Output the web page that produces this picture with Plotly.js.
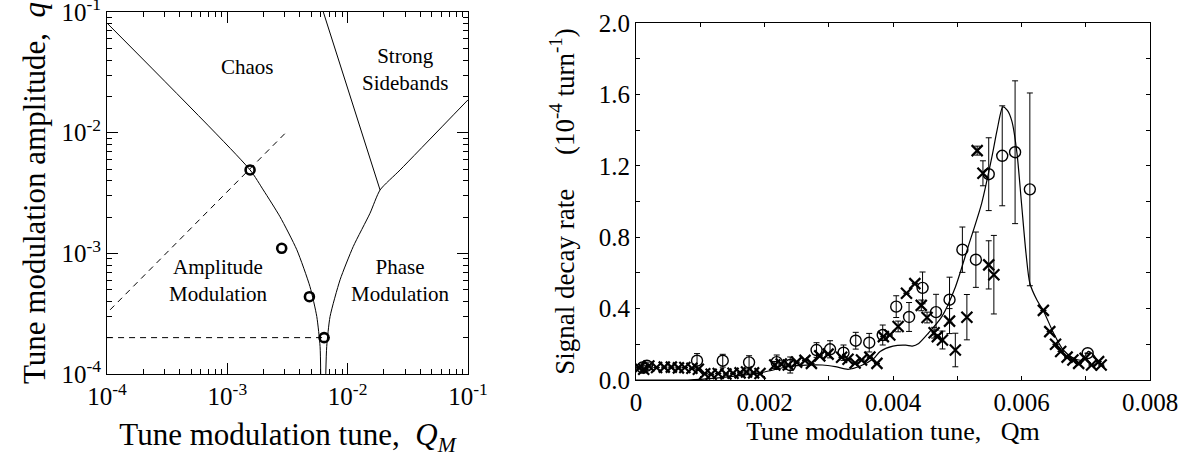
<!DOCTYPE html>
<html>
<head>
<meta charset="utf-8">
<script src="https://cdn.plot.ly/plotly-3.0.1.min.js"></script>
<style>html,body{margin:0;padding:0;background:#fff;}#chart{width:1192px;height:459px;}</style>
</head>
<body>
<div id="chart"></div>
<script>
// ---------- Left panel: regime diagram (log-log) ----------
const leftBranchQM = [1e-4, 1.545e-3, 1.99e-3, 2.74e-3, 3.78e-3, 4.86e-3, 5.54e-3, 5.90e-3, 5.97e-3];
const leftBranchQ  = [0.081, 4.91e-3, 3.35e-3, 2.01e-3, 1.07e-3, 5.3e-4, 2.99e-4, 1.69e-4, 1.0e-4];
const rightBranchQM = [6.58e-3, 6.70e-3, 7.14e-3, 8.65e-3, 1.114e-2, 1.535e-2, 1.86e-2, 2.73e-2, 0.1];
const rightBranchQ  = [1.0e-4, 1.69e-4, 2.99e-4, 6.03e-4, 1.14e-3, 2.15e-3, 3.35e-3, 4.91e-3, 0.0187];
const sidebandQM = [6.28e-3, 1.86e-2];
const sidebandQ  = [0.1, 3.35e-3];
const diagDashQM = [1.06e-4, 3.12e-3];
const diagDashQ  = [3.4e-4, 1.02e-2];
const horizDashQM = [1e-4, 7.1e-3];
const horizDashQ  = [2.0e-4, 2.0e-4];
const measQM = [1.545e-3, 2.83e-3, 4.81e-3, 6.37e-3];
const measQ  = [4.91e-3, 1.10e-3, 4.37e-4, 2.0e-4];
const logDecades = [1e-4, 1e-3, 1e-2, 1e-1];
const logDecadeText = ['10<sup>-4</sup>', '10<sup>-3</sup>', '10<sup>-2</sup>', '10<sup>-1</sup>'];
const regionLabels = ['Chaos', 'Strong<br>Sidebands', 'Amplitude<br>Modulation', 'Phase<br>Modulation'];
const regionLabelQM = [1.46e-3, 3.0e-2, 8.4e-4, 2.73e-2];
const regionLabelQ  = [3.5e-2, 3.37e-2, 5.9e-4, 5.9e-4];

// ---------- Right panel: signal decay rate ----------
const circleQm  = [0.00010, 0.00017, 0.00095, 0.00135, 0.00176, 0.00219, 0.00240, 0.00281, 0.00302, 0.00323, 0.00342, 0.00363, 0.00384, 0.00405, 0.00425, 0.00446, 0.00467, 0.00488, 0.00508, 0.00529, 0.00549, 0.00570, 0.00590, 0.00613, 0.00703];
const circleRate= [0.070, 0.080, 0.108, 0.108, 0.099, 0.100, 0.084, 0.168, 0.172, 0.153, 0.220, 0.209, 0.252, 0.411, 0.353, 0.516, 0.380, 0.450, 0.730, 0.674, 1.153, 1.256, 1.276, 1.068, 0.150];
const circleErr = [0.02, 0.02, 0.040, 0.036, 0.037, 0.040, 0.045, 0.041, 0.048, 0.043, 0.047, 0.052, 0.056, 0.061, 0.081, 0.089, 0.100, 0.126, 0.127, 0.155, 0.204, 0.280, 0.400, 0.540, null];

const crossQm  = [0.00005, 0.00012, 0.00020, 0.00032, 0.00044, 0.00055, 0.00066, 0.00076, 0.00087, 0.00097,
                  0.00107, 0.00117, 0.00128, 0.00140, 0.00151, 0.00162, 0.00172, 0.00183, 0.00193,
                  0.00216, 0.00226, 0.00237, 0.00250, 0.00263, 0.00273, 0.00286, 0.00299, 0.00320, 0.00330, 0.00341, 0.00351, 0.00364, 0.00375, 0.00385, 0.00395, 0.00408,
                  0.00421, 0.00434, 0.00444, 0.00453, 0.00464, 0.00469, 0.00477, 0.00488, 0.00497, 0.00515, 0.00531, 0.00540, 0.00549, 0.00557,
                  0.00634, 0.00644, 0.00653, 0.00661, 0.00671, 0.00680, 0.00689, 0.00699, 0.00709, 0.00720, 0.00724];
const crossRate= [0.068, 0.060, 0.078, 0.070, 0.072, 0.072, 0.068, 0.070, 0.066, 0.060,
                  0.035, 0.032, 0.036, 0.034, 0.038, 0.040, 0.045, 0.040, 0.036,
                  0.084, 0.090, 0.084, 0.100, 0.110, 0.093, 0.135, 0.145, 0.127, 0.116, 0.095, 0.112, 0.128, 0.093, 0.243, 0.252, 0.300,
                  0.486, 0.540, 0.418, 0.350, 0.265, 0.243, 0.224, 0.330, 0.168, 0.352, 1.285, 1.158, 0.645, 0.590,
                  0.390, 0.271, 0.200, 0.160, 0.128, 0.112, 0.093, 0.121, 0.084, 0.103, 0.084];
const crossErr = [null, 0.02, null, null, null, null, null, null, null, null,
                  null, null, null, null, null, null, null, null, null,
                  0.02, null, null, null, null, null, null, null, null, null, null, null, null, null, null, null, 0.03,
                  null, null, 0.03, 0.03, 0.03, null, 0.05, 0.07, 0.094, 0.127, 0.025, 0.07, 0.135, 0.22,
                  null, null, null, null, null, null, null, null, null, null, null];

const modelQm   = [0.0000, 0.0008, 0.0010, 0.0015, 0.0020, 0.0023, 0.0025, 0.0029, 0.0031, 0.0033, 0.0035, 0.0037, 0.0038, 0.0040, 0.0042, 0.0043, 0.0044, 0.00455, 0.00476, 0.00497, 0.00517, 0.00538, 0.00554, 0.00562, 0.00571, 0.00578, 0.00585, 0.00593, 0.00600, 0.00607, 0.00613, 0.00624, 0.00634, 0.00650, 0.00665, 0.00681, 0.00694, 0.00704, 0.00712, 0.00720];
const modelRate = [0.000, 0.000, 0.003, 0.020, 0.045, 0.070, 0.080, 0.084, 0.075, 0.060, 0.080, 0.120, 0.160, 0.190, 0.195, 0.190, 0.205, 0.262, 0.355, 0.520, 0.747, 0.990, 1.251, 1.400, 1.530, 1.510, 1.450, 1.270, 0.990, 0.710, 0.542, 0.448, 0.388, 0.262, 0.168, 0.122, 0.112, 0.160, 0.140, 0.093];

const qmTickVals  = [0, 0.001, 0.002, 0.003, 0.004, 0.005, 0.006, 0.007, 0.008];
const qmTickText  = ['0', '', '0.002', '', '0.004', '', '0.006', '', '0.008'];
const rateTickVals = [0, 0.2, 0.4, 0.6, 0.8, 1.0, 1.2, 1.4, 1.6, 1.8, 2.0];
const rateTickText = ['0.0', '', '0.4', '', '0.8', '', '1.2', '', '1.6', '', '2.0'];

const FONT = 'Liberation Serif, Times New Roman, serif';
const NB = '\u00A0';

// all tick positions (1..9 x each decade) for the log axes; labels only on decades
const logAllTicks = [], logAllText = [];
for (let e = -4; e < -1; e++) for (let m = 1; m <= 9; m++) {
  logAllTicks.push(m * Math.pow(10, e));
  logAllText.push(m === 1 ? logDecadeText[e + 4] : '');
}
logAllTicks.push(1e-1); logAllText.push(logDecadeText[3]);

const lineStyle = {color: 'black', width: 1};
const traces = [
  {x: leftBranchQM, y: leftBranchQ, mode: 'lines', line: Object.assign({shape: 'spline', smoothing: 0.6}, lineStyle), xaxis: 'x', yaxis: 'y'},
  {x: rightBranchQM, y: rightBranchQ, mode: 'lines', line: Object.assign({shape: 'spline', smoothing: 0.6}, lineStyle), xaxis: 'x', yaxis: 'y'},
  {x: sidebandQM, y: sidebandQ, mode: 'lines', line: lineStyle, xaxis: 'x', yaxis: 'y'},
  {x: diagDashQM, y: diagDashQ, mode: 'lines', line: {color: 'black', width: 1, dash: '6px,5px'}, xaxis: 'x', yaxis: 'y'},
  {x: horizDashQM, y: horizDashQ, mode: 'lines', line: {color: 'black', width: 1, dash: '6px,5px'}, xaxis: 'x', yaxis: 'y'},
  {x: measQM, y: measQ, mode: 'markers', marker: {symbol: 'circle-open', size: 9, color: 'black', line: {width: 2.6, color: 'black'}}, xaxis: 'x', yaxis: 'y'},
  // invisible anchor trace for the overlay (long decade ticks) axes
  {x: [1e-4], y: [1e-4], mode: 'markers', marker: {opacity: 0}, xaxis: 'x3', yaxis: 'y3'},

  {x: modelQm, y: modelRate, mode: 'lines', line: {color: 'black', width: 1.2, shape: 'spline', smoothing: 0.7}, xaxis: 'x2', yaxis: 'y2'},
  {x: crossQm, y: crossRate, mode: 'markers', marker: {symbol: 'x-thin-open', size: 11, color: 'black', line: {width: 2.2, color: 'black'}},
   error_y: {type: 'data', array: crossErr, visible: true, color: 'black', thickness: 1, width: 3}, xaxis: 'x2', yaxis: 'y2'},
  {x: circleQm, y: circleRate, mode: 'markers', marker: {symbol: 'circle-open', size: 11, color: 'black', line: {width: 1.4, color: 'black'}},
   error_y: {type: 'data', array: circleErr, visible: true, color: 'black', thickness: 1, width: 3}, xaxis: 'x2', yaxis: 'y2'}
];

const annotations = regionLabels.map((t, i) => ({
  text: t, x: Math.log10(regionLabelQM[i]), y: Math.log10(regionLabelQ[i]), xref: 'x', yref: 'y',
  showarrow: false, font: {family: FONT, size: 21, color: 'black'}, align: 'center'
}));

const axCommon = {showline: true, linecolor: 'black', linewidth: 1, mirror: 'allticks', ticks: 'inside', tickcolor: 'black',
  showgrid: false, zeroline: false, ticklabeloverflow: 'allow', tickmode: 'array'};

const LDOMX = [107/1192, 468/1192], LDOMY = [1 - 374/459, 1 - 12/459];
const LRANGE = [-4.0005, -0.9995];

const layout = {
  width: 1192, height: 459,
  margin: {l: 0, r: 0, t: 0, b: 0},
  paper_bgcolor: 'white', plot_bgcolor: 'white',
  showlegend: false,
  font: {family: FONT, color: 'black'},
  xaxis: Object.assign({}, axCommon, {
    type: 'log', range: LRANGE, domain: LDOMX, anchor: 'y',
    tickvals: logAllTicks, ticktext: logAllText, ticklen: 5,
    tickfont: {family: FONT, size: 25, color: 'black'},
    title: {text: 'Tune modulation tune,' + NB + NB + '<i>Q<sub>M</sub></i>', font: {family: FONT, size: 31, color: 'black'}, standoff: 14}
  }),
  yaxis: Object.assign({}, axCommon, {
    type: 'log', range: LRANGE, domain: LDOMY, anchor: 'x',
    tickvals: logAllTicks, ticktext: logAllText, ticklen: 5,
    tickfont: {family: FONT, size: 25, color: 'black'},
    title: {text: 'Tune modulation amplitude,' + NB + NB + '<i>q</i>', font: {family: FONT, size: 31, color: 'black'}, standoff: 6}
  }),
  xaxis3: Object.assign({}, axCommon, {
    type: 'log', range: LRANGE, domain: LDOMX, anchor: 'y3', overlaying: 'x',
    tickvals: logDecades, ticktext: ['', '', '', ''], ticklen: 11, showticklabels: false
  }),
  yaxis3: Object.assign({}, axCommon, {
    type: 'log', range: LRANGE, domain: LDOMY, anchor: 'x3', overlaying: 'y',
    tickvals: logDecades, ticktext: ['', '', '', ''], ticklen: 11, showticklabels: false
  }),
  xaxis2: Object.assign({}, axCommon, {
    range: [0, 0.008], domain: [636/1192, 1150/1192], anchor: 'y2',
    tickvals: qmTickVals, ticktext: qmTickText, ticklen: 4,
    tickfont: {family: FONT, size: 25, color: 'black'},
    title: {text: 'Tune modulation tune,' + NB + NB + NB + 'Qm', font: {family: FONT, size: 26, color: 'black'}, standoff: 6}
  }),
  yaxis2: Object.assign({}, axCommon, {
    range: [0, 2.0], domain: [1 - 380/459, 1 - 23/459], anchor: 'x2',
    tickvals: rateTickVals, ticktext: rateTickText, ticklen: 4,
    tickfont: {family: FONT, size: 25, color: 'black'},
    title: {text: 'Signal decay rate' + NB + NB + NB + NB + NB + '(10<sup>-4</sup> turn<sup>-1</sup>)', font: {family: FONT, size: 27, color: 'black'}, standoff: 16}
  }),
  annotations: annotations
};

Plotly.newPlot('chart', traces, layout, {staticPlot: true, displayModeBar: false});
</script>
</body>
</html>
